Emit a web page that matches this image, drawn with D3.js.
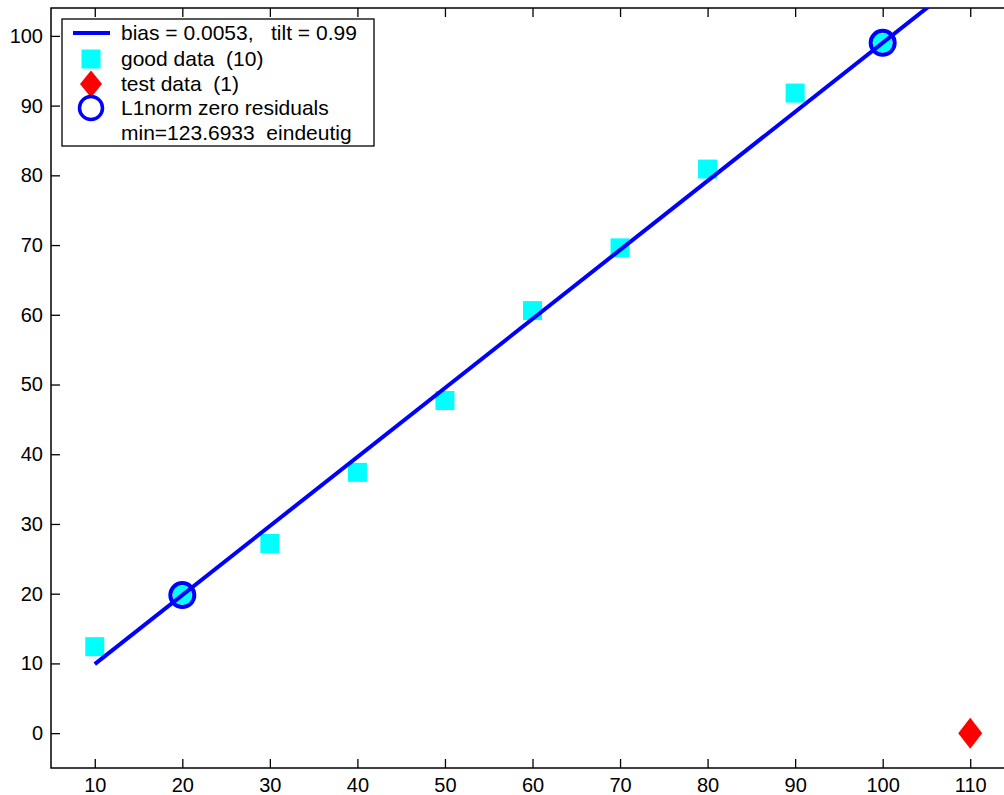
<!DOCTYPE html>
<html>
<head>
<meta charset="utf-8">
<script src="https://cdn.jsdelivr.net/npm/d3@7"></script>
<style>
  html, body { margin: 0; padding: 0; background: #fff; overflow: hidden; }
  svg { display: block; font-family: "Liberation Sans", Arial, Helvetica, sans-serif; }
  .axis text { font-size: 20px; fill: #000; }
  .axis path { display: none; }
  .axis line { stroke: #000; stroke-width: 1.3; }
  .legend text { font-size: 21px; fill: #000; }
</style>
</head>
<body>
<svg id="chart" width="1004" height="795"></svg>
<script>
// data
var goodX = [10, 20, 30, 40, 50, 60, 70, 80, 90, 100];
var goodY = [12.4, 19.8, 27.2, 37.4, 47.7, 60.6, 69.6, 80.9, 91.8, 99.0];
var testX = [110];
var testY = [0];
var zeroResX = [20, 100];
var zeroResY = [19.8, 99.0];
var bias = 0.0053, tilt = 0.99;
var fitRange = [10, 115];
var xTicks = [10, 20, 30, 40, 50, 60, 70, 80, 90, 100, 110];
var yTicks = [0, 10, 20, 30, 40, 50, 60, 70, 80, 90, 100];
var legendLabels = ['bias = 0.0053,   tilt = 0.99', 'good data  (10)', 'test data  (1)',
  'L1norm zero residuals', 'min=123.6933  eindeutig'];

var G = {
  left: 51, right: 1014, top: 8, bottom: 768,
  blue: '#0000ff', cyan: '#00ffff', red: '#ff0000'
};

var svg = d3.select('#chart');
var x = d3.scaleLinear().domain([5, 115]).range([G.left, G.right]);
var y = d3.scaleLinear().domain([-5, 104]).range([G.bottom, G.top]);

svg.append('defs').append('clipPath').attr('id', 'plot-clip')
  .append('rect')
  .attr('x', G.left).attr('y', G.top)
  .attr('width', G.right - G.left).attr('height', G.bottom - G.top);

// axes, ticks pointing inward
svg.append('g').attr('class', 'axis')
  .attr('transform', 'translate(0,' + G.bottom + ')')
  .call(d3.axisBottom(x).tickValues(xTicks).tickSizeInner(-9).tickSizeOuter(0).tickPadding(10));
svg.append('g').attr('class', 'axis')
  .attr('transform', 'translate(0,' + G.top + ')')
  .call(d3.axisTop(x).tickValues(xTicks).tickSizeInner(-9).tickSizeOuter(0).tickFormat(''));
svg.append('g').attr('class', 'axis')
  .attr('transform', 'translate(' + G.left + ',0)')
  .call(d3.axisLeft(y).tickValues(yTicks).tickSizeInner(-9).tickSizeOuter(0).tickPadding(8));
svg.append('g').attr('class', 'axis')
  .attr('transform', 'translate(' + G.right + ',0)')
  .call(d3.axisRight(y).tickValues(yTicks).tickSizeInner(-9).tickSizeOuter(0).tickFormat(''));

svg.append('rect')
  .attr('x', G.left).attr('y', G.top)
  .attr('width', G.right - G.left).attr('height', G.bottom - G.top)
  .attr('fill', 'none').attr('stroke', '#000').attr('stroke-width', 1.5);

var plot = svg.append('g').attr('clip-path', 'url(#plot-clip)');

var good = goodX.map(function(v, i) { return [v, goodY[i]]; });
var sq = 19;
plot.selectAll('.good').data(good).enter().append('rect')
  .attr('class', 'good')
  .attr('x', function(d) { return x(d[0]) - sq / 2; })
  .attr('y', function(d) { return y(d[1]) - sq / 2; })
  .attr('width', sq).attr('height', sq)
  .attr('fill', G.cyan);

var fit = fitRange.map(function(v) { return [v, bias + tilt * v]; });
plot.append('path')
  .datum(fit)
  .attr('d', d3.line().x(function(d) { return x(d[0]); }).y(function(d) { return y(d[1]); }))
  .attr('fill', 'none').attr('stroke', G.blue).attr('stroke-width', 4);

var test = testX.map(function(v, i) { return [v, testY[i]]; });
function diamond(cx, cy, w, h) {
  return 'M' + cx + ',' + (cy - h / 2) + 'L' + (cx + w / 2) + ',' + cy +
    'L' + cx + ',' + (cy + h / 2) + 'L' + (cx - w / 2) + ',' + cy + 'Z';
}
plot.selectAll('.test').data(test).enter().append('path')
  .attr('class', 'test')
  .attr('d', function(d) { return diamond(x(d[0]), y(d[1]), 24, 31); })
  .attr('fill', G.red);

var zero = zeroResX.map(function(v, i) { return [v, zeroResY[i]]; });
plot.selectAll('.zero').data(zero).enter().append('circle')
  .attr('class', 'zero')
  .attr('cx', function(d) { return x(d[0]); })
  .attr('cy', function(d) { return y(d[1]); })
  .attr('r', 12)
  .attr('fill', 'none').attr('stroke', G.blue).attr('stroke-width', 4);

// legend
var lg = svg.append('g').attr('class', 'legend');
lg.append('rect')
  .attr('x', 62).attr('y', 19).attr('width', 312).attr('height', 127)
  .attr('fill', '#fff').attr('stroke', '#000').attr('stroke-width', 1.3);
var rowY = [33, 59, 84, 108, 133];
lg.append('line').attr('x1', 73).attr('x2', 110).attr('y1', rowY[0]).attr('y2', rowY[0])
  .attr('stroke', G.blue).attr('stroke-width', 4);
lg.append('rect').attr('x', 91 - sq / 2).attr('y', rowY[1] - sq / 2)
  .attr('width', sq).attr('height', sq).attr('fill', G.cyan);
lg.append('path').attr('d', diamond(91, rowY[2], 22, 27)).attr('fill', G.red);
lg.append('circle').attr('cx', 91).attr('cy', rowY[3]).attr('r', 11.5)
  .attr('fill', 'none').attr('stroke', G.blue).attr('stroke-width', 3.5);
lg.selectAll('.lab').data(legendLabels).enter().append('text')
  .attr('class', 'lab')
  .attr('x', 121)
  .attr('y', function(d, i) { return rowY[i]; })
  .attr('dy', '0.35em')
  .style('white-space', 'pre')
  .attr('xml:space', 'preserve')
  .text(function(d) { return d; });
</script>
</body>
</html>
